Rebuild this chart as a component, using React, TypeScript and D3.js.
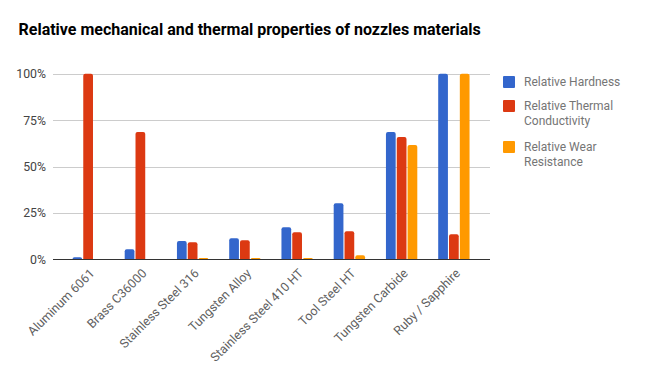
import React, { useEffect, useRef } from 'react';
import * as d3 from 'd3';

const materials = [
	'Aluminum 6061',
	'Brass C36000',
	'Stainless Steel 316',
	'Tungsten Alloy',
	'Stainless Steel 410 HT',
	'Tool Steel HT',
	'Tungsten Carbide',
	'Ruby / Sapphire',
];
const seriesNames = ['Relative Hardness', 'Relative Thermal Conductivity', 'Relative Wear Resistance'];
const hardness = [1.2, 5.5, 9.9, 11.5, 17.4, 30.3, 68.6, 100];
const thermalConductivity = [100, 68.6, 9.3, 10.4, 14.7, 15.2, 65.9, 13.6];
const wearResistance = [0.3, 0.3, 0.8, 0.8, 0.8, 2.3, 61.6, 100];
const yTicks = [0, 25, 50, 75, 100];
const colors = ['#3366cc', '#dc3912', '#ff9900'];

const W = 652;
const H = 386;

const topRounded = (x: number, y: number, w: number, h: number, r: number) => {
	const rr = Math.min(r, h, w / 2);
	return `M${x},${y + h}V${y + rr}Q${x},${y} ${x + rr},${y}H${x + w - rr}Q${x + w},${y} ${x + w},${y + rr}V${y + h}Z`;
};

const App: React.FC = () => {
	const svgRef = useRef<SVGSVGElement>(null);

	useEffect(() => {
		if (!svgRef.current) return;
		const svg = d3.select(svgRef.current);
		svg.selectAll('*').remove();

		const font = 'Roboto, Arial, sans-serif';
		const values = [hardness, thermalConductivity, wearResistance];

		const plotLeft = 53;
		const plotRight = 490;

		const x0 = d3.scaleBand<string>()
			.domain(materials)
			.range([62, 480])
			.paddingInner(0.4)
			.paddingOuter(0.2);

		const x1 = d3.scaleBand<string>()
			.domain(seriesNames)
			.range([0, x0.bandwidth()])
			.paddingInner(0.1);

		const y = d3.scaleLinear()
			.domain([0, 100])
			.range([259.5, 73.8]);

		svg.append('rect').attr('width', W).attr('height', H).attr('fill', '#fff');

		// title
		svg.append('text')
			.attr('x', 18.5)
			.attr('y', 35)
			.attr('font-family', font)
			.attr('font-weight', 'bold')
			.attr('font-size', 16)
			.attr('fill', '#000')
			.text('Relative mechanical and thermal properties of nozzles materials');

		// grid + y labels
		const grid = svg.append('g');
		yTicks.forEach(t => {
			if (t !== 0) {
				grid.append('line')
					.attr('x1', plotLeft).attr('x2', plotRight)
					.attr('y1', Math.round(y(t)) + 0.5).attr('y2', Math.round(y(t)) + 0.5)
					.attr('stroke', '#cccccc');
			}
			grid.append('text')
				.attr('x', 46)
				.attr('y', y(t) + 4.3)
				.attr('text-anchor', 'end')
				.attr('font-family', font)
				.attr('font-size', 12.3)
				.attr('fill', '#444')
				.text(`${t}%`);
		});

		// bars
		const groups = svg.append('g');
		materials.forEach((m, i) => {
			seriesNames.forEach((s, j) => {
				const v = values[j][i];
				const bx = (x0(m) ?? 0) + (x1(s) ?? 0);
				const top = y(v);
				groups.append('path')
					.attr('d', topRounded(bx, top, x1.bandwidth(), y(0) - top, 2))
					.attr('fill', colors[j]);
			});
		});

		// baseline
		svg.append('line')
			.attr('x1', plotLeft).attr('x2', plotRight)
			.attr('y1', 259.5).attr('y2', 259.5)
			.attr('stroke', '#333').attr('stroke-width', 1);

		// x labels
		materials.forEach(m => {
			const cx = (x0(m) ?? 0) + x0.bandwidth() / 2;
			svg.append('text')
				.attr('transform', `translate(${cx + 7},${274}) rotate(-45)`)
				.attr('text-anchor', 'end')
				.attr('font-family', font)
				.attr('font-size', 12.5)
				.attr('fill', '#5f5f5f')
				.text(m);
		});

		// legend
		const legendRows = [
			{ lines: ['Relative Hardness'], y: 76 },
			{ lines: ['Relative Thermal', 'Conductivity'], y: 100 },
			{ lines: ['Relative Wear', 'Resistance'], y: 141 },
		];
		legendRows.forEach((row, i) => {
			svg.append('rect')
				.attr('x', 503).attr('y', row.y)
				.attr('width', 12).attr('height', 12)
				.attr('rx', 1)
				.attr('fill', colors[i]);
			row.lines.forEach((ln, k) => {
				svg.append('text')
					.attr('x', 524)
					.attr('y', row.y + 10 + k * 15)
					.attr('font-family', font)
					.attr('font-size', 12)
					.attr('fill', '#757575')
					.text(ln);
			});
		});
	}, []);

	return (
		<svg
			ref={svgRef}
			width={W}
			height={H}
			style={{ position: 'absolute', left: 0, top: 0, display: 'block' }}
		/>
	);
};

export default App;
